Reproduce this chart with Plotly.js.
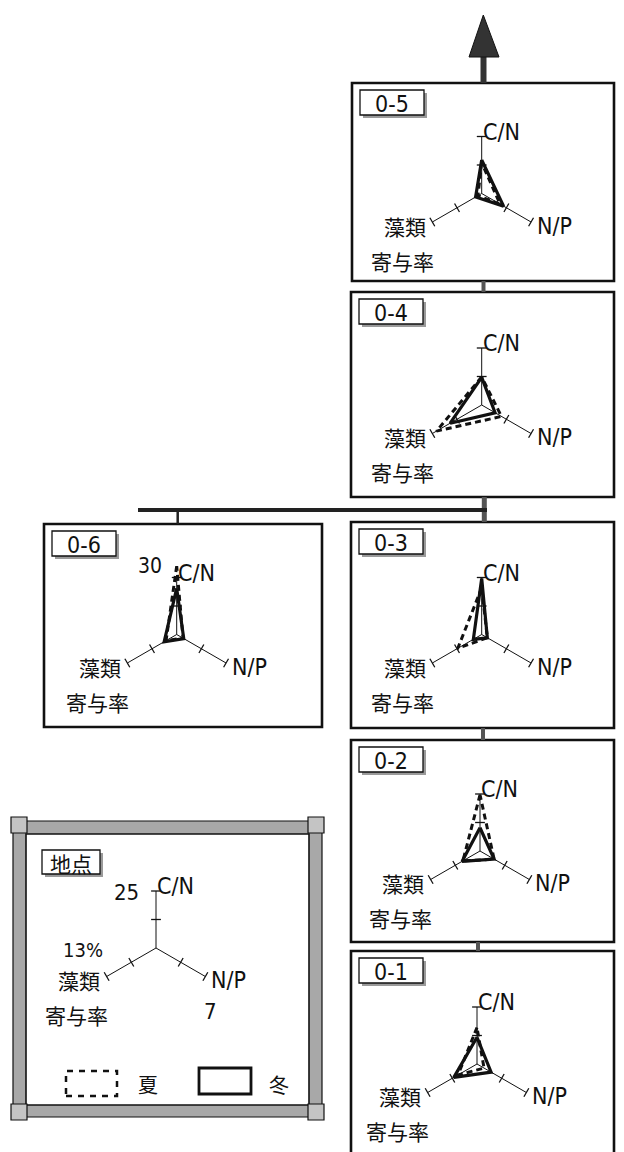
<!DOCTYPE html>
<html>
<head>
<meta charset="utf-8">
<script src="https://cdn.plot.ly/plotly-3.0.1.min.js"></script>
<style>html,body{margin:0;padding:0;background:#fff;}#chart{width:624px;height:1152px;}</style>
</head>
<body>
<div id="chart"></div>
<script>
// ---------------- data ----------------
const sites = ['0-5', '0-4', '0-6', '0-3', '0-2', '0-1'];
const axisLabels = ['C/N', '藻類', 'N/P'];
const axisMax = [25, 13, 7];           // scale end of each axis (C/N, 藻類寄与率 %, N/P)
const axisMaxLabels = ['25', '13%', '7'];
const summerCN    = [13.5, 12.3, 30.0, 20.5, 24.6, 16.0];
const summerAlgae = [1.0, 11.9, 2.8, 6.3, 4.5, 5.0];
const summerNP    = [2.6, 2.8, 0.9, 0.8, 2.0, 1.0];
const winterCN    = [14.7, 12.1, 20.2, 24.6, 10.2, 11.7];
const winterAlgae = [1.6, 8.3, 3.3, 2.2, 4.7, 6.1];
const winterNP    = [3.1, 1.9, 1.0, 0.8, 2.0, 2.0];
const seasonNames = ['夏', '冬'];
const contribLabel = '寄与率';
const legendTitle = '地点';
const overflowLabel = '30';

// ---------------- layout geometry (pixels) ----------------
const W = 624, H = 1152;
const L = 57;           // pixel length of one full axis
const RMAX = 1.25;      // radial range of each polar subplot (1 = axis end)
const panels = {
  '0-5': {x0: 352, y0: 83,  x1: 614, y1: 281,  cx: 481.7, cy: 193.5},
  '0-4': {x0: 351, y0: 292, x1: 614, y1: 497,  cx: 481.7, cy: 405},
  '0-6': {x0: 44,  y0: 524, x1: 322, y1: 727,  cx: 176.7, cy: 634.5},
  '0-3': {x0: 351, y0: 522, x1: 614, y1: 728,  cx: 481.7, cy: 634.5},
  '0-2': {x0: 351, y0: 740, x1: 614, y1: 942,  cx: 480,   cy: 851},
  '0-1': {x0: 351, y0: 951, x1: 614, y1: 1170, cx: 477,   cy: 1064}
};
const legendPanel = {cx: 156, cy: 948};
const thetas = [0, 120, 240];

const px = x => x / W;
const py = y => 1 - y / H;

const latinFont = "'Liberation Sans Narrow','DejaVu Sans Condensed','Liberation Sans',sans-serif";
const cjkFont = "'Noto Sans CJK JP','Noto Sans CJK SC',sans-serif";
const LATIN_SIZE = 23, CJK_SIZE = 21;

const traces = [];
const layout = {
  width: W, height: H,
  margin: {l: 0, r: 0, t: 0, b: 0},
  paper_bgcolor: '#fff',
  showlegend: false,
  shapes: [], annotations: []
};

function polarLayout(cx, cy) {
  const half = RMAX * L;
  return {
    domain: {x: [px(cx - half), px(cx + half)], y: [py(cy + half), py(cy - half)]},
    bgcolor: 'rgba(0,0,0,0)',
    radialaxis: {visible: false, range: [0, RMAX]},
    angularaxis: {visible: false, rotation: 90, direction: 'counterclockwise', thetaunit: 'degrees'}
  };
}

function addAxes(sub) {
  const r = [], t = [];
  thetas.forEach(th => { r.push(0, 1, null); t.push(th, th, null); });
  traces.push({type: 'scatterpolar', subplot: sub, mode: 'lines', r: r, theta: t,
    line: {color: '#111', width: 1}, hoverinfo: 'skip'});
  const tr = [], tt = [], ang = [];
  const tickAngles = [0, 60, -60];
  thetas.forEach((th, i) => { [0.5, 1].forEach(v => { tr.push(v); tt.push(th); ang.push(tickAngles[i]); }); });
  traces.push({type: 'scatterpolar', subplot: sub, mode: 'markers', r: tr, theta: tt,
    marker: {symbol: 'line-ew', size: 7, angle: ang, color: '#111', line: {color: '#111', width: 1.3}},
    hoverinfo: 'skip'});
}

function addLabels(cx, cy) {
  const ann = layout.annotations;
  ann.push({xref: 'paper', yref: 'paper', x: px(cx - 1), y: py(cy - 62), xanchor: 'left', yanchor: 'middle',
    text: axisLabels[0], showarrow: false, font: {family: latinFont, size: LATIN_SIZE, color: '#111'}});
  ann.push({xref: 'paper', yref: 'paper', x: px(cx - 54), y: py(cy + 32), xanchor: 'right', yanchor: 'middle',
    text: axisLabels[1], showarrow: false, font: {family: cjkFont, size: CJK_SIZE, color: '#111'}});
  ann.push({xref: 'paper', yref: 'paper', x: px(cx + 53), y: py(cy + 32), xanchor: 'left', yanchor: 'middle',
    text: axisLabels[2], showarrow: false, font: {family: latinFont, size: LATIN_SIZE, color: '#111'}});
  ann.push({xref: 'paper', yref: 'paper', x: px(cx - 113), y: py(cy + 67), xanchor: 'left', yanchor: 'middle',
    text: contribLabel, showarrow: false, font: {family: cjkFont, size: CJK_SIZE, color: '#111'}});
}

function labelBox(x0, y0, w, h, text, font, size) {
  layout.shapes.push({type: 'rect', xref: 'paper', yref: 'paper', layer: 'below',
    x0: px(x0 + 3), x1: px(x0 + w + 3), y0: py(y0 + h + 3), y1: py(y0 + 3),
    fillcolor: '#9a9a9a', line: {width: 0}});
  layout.shapes.push({type: 'rect', xref: 'paper', yref: 'paper', layer: 'below',
    x0: px(x0), x1: px(x0 + w), y0: py(y0 + h), y1: py(y0),
    fillcolor: '#fff', line: {color: '#111', width: 1.3}});
  layout.annotations.push({xref: 'paper', yref: 'paper', x: px(x0 + w / 2), y: py(y0 + h / 2 + 1),
    xanchor: 'center', yanchor: 'middle', text: text, showarrow: false,
    font: {family: font, size: size, color: '#111'}});
}

function vline(x, y0, y1, w, c) {
  layout.shapes.push({type: 'line', xref: 'paper', yref: 'paper', layer: 'below',
    x0: px(x), x1: px(x), y0: py(y0), y1: py(y1), line: {color: c || '#222', width: w}});
}
function hline(x0, x1, y, w, c) {
  layout.shapes.push({type: 'line', xref: 'paper', yref: 'paper', layer: 'below',
    x0: px(x0), x1: px(x1), y0: py(y), y1: py(y), line: {color: c || '#222', width: w}});
}

// ---------------- panels ----------------
sites.forEach((site, i) => {
  const p = panels[site];
  const sub = 'polar' + (i + 2);
  layout[sub] = polarLayout(p.cx, p.cy);
  layout.shapes.push({type: 'rect', xref: 'paper', yref: 'paper', layer: 'below',
    x0: px(p.x0), x1: px(p.x1), y0: py(p.y1), y1: py(p.y0), line: {color: '#111', width: 2.6}});
  labelBox(p.x0 + 8, p.y0 + 7, 64, 25, site, latinFont, 23);
  addAxes(sub);
  const rs = [summerCN[i] / axisMax[0], summerAlgae[i] / axisMax[1], summerNP[i] / axisMax[2]];
  const rw = [winterCN[i] / axisMax[0], winterAlgae[i] / axisMax[1], winterNP[i] / axisMax[2]];
  traces.push({type: 'scatterpolar', subplot: sub, mode: 'lines', name: seasonNames[0],
    r: rs.concat([rs[0]]), theta: thetas.concat([thetas[0]]),
    line: {color: '#111', width: 3, dash: '6px,4px'}});
  traces.push({type: 'scatterpolar', subplot: sub, mode: 'lines', name: seasonNames[1],
    r: rw.concat([rw[0]]), theta: thetas.concat([thetas[0]]),
    line: {color: '#111', width: 3.2}});
  addLabels(p.cx, p.cy);
  if (summerCN[i] > axisMax[0]) {
    const over = (summerCN[i] / axisMax[0]) * L;
    layout.annotations.push({xref: 'paper', yref: 'paper', x: px(p.cx - 27), y: py(p.cy - over),
      xanchor: 'center', yanchor: 'middle', text: overflowLabel, showarrow: false,
      font: {family: latinFont, size: 21, color: '#111'}});
  }
});

// ---------------- legend panel ----------------
(function () {
  const lc = legendPanel;
  layout.shapes.push({type: 'rect', xref: 'paper', yref: 'paper', layer: 'below',
    x0: px(13), x1: px(322), y0: py(1117), y1: py(821), fillcolor: '#a8a8a8', line: {color: '#111', width: 1.2}});
  layout.shapes.push({type: 'rect', xref: 'paper', yref: 'paper', layer: 'below',
    x0: px(26), x1: px(309), y0: py(1105), y1: py(834), fillcolor: '#fff', line: {color: '#111', width: 1.6}});
  [[19, 825], [316, 825], [19, 1112], [316, 1112]].forEach(c => {
    layout.shapes.push({type: 'rect', xref: 'paper', yref: 'paper', layer: 'below',
      x0: px(c[0] - 8), x1: px(c[0] + 8), y0: py(c[1] + 8), y1: py(c[1] - 8),
      fillcolor: '#c4c4c4', line: {color: '#111', width: 1.2}});
  });
  labelBox(42, 850, 58, 24, legendTitle, cjkFont, 21);
  const sub = 'polar';
  layout[sub] = polarLayout(lc.cx, lc.cy);
  addAxes(sub);
  addLabels(lc.cx, lc.cy);
  const f = {family: latinFont, size: 22, color: '#111'};
  layout.annotations.push({xref: 'paper', yref: 'paper', x: px(lc.cx - 15), y: py(lc.cy - 56), xanchor: 'right', yanchor: 'middle',
    text: axisMaxLabels[0], showarrow: false, font: f});
  layout.annotations.push({xref: 'paper', yref: 'paper', x: px(lc.cx - 73), y: py(lc.cy + 2), xanchor: 'center', yanchor: 'middle',
    text: axisMaxLabels[1], showarrow: false, font: {family: latinFont, size: 20, color: '#111'}});
  layout.annotations.push({xref: 'paper', yref: 'paper', x: px(lc.cx + 54), y: py(lc.cy + 63), xanchor: 'center', yanchor: 'middle',
    text: axisMaxLabels[2], showarrow: false, font: f});
  layout.shapes.push({type: 'rect', xref: 'paper', yref: 'paper', layer: 'below',
    x0: px(66), x1: px(117), y0: py(1096), y1: py(1071), line: {color: '#111', width: 2.5, dash: '6px,6px'}});
  layout.shapes.push({type: 'rect', xref: 'paper', yref: 'paper', layer: 'below',
    x0: px(199), x1: px(251), y0: py(1094), y1: py(1068), line: {color: '#111', width: 2.8}});
  layout.annotations.push({xref: 'paper', yref: 'paper', x: px(148), y: py(1084), xanchor: 'center', yanchor: 'middle',
    text: seasonNames[0], showarrow: false, font: {family: cjkFont, size: 20, color: '#111'}});
  layout.annotations.push({xref: 'paper', yref: 'paper', x: px(279), y: py(1084), xanchor: 'center', yanchor: 'middle',
    text: seasonNames[1], showarrow: false, font: {family: cjkFont, size: 20, color: '#111'}});
})();

// ---------------- connectors & arrow ----------------
vline(483.5, 57, 83, 6, '#333');
layout.shapes.push({type: 'path', xref: 'paper', yref: 'paper', layer: 'below',
  path: 'M ' + px(469) + ' ' + py(57) + ' L ' + px(483.3) + ' ' + py(15) + ' L ' + px(499) + ' ' + py(57) + ' Z',
  fillcolor: '#333', line: {color: '#111', width: 1}});
vline(483.5, 281, 292, 4, '#555');
vline(484.3, 497, 522, 5, '#555');
hline(138, 487, 510, 4, '#222');
vline(177.7, 510, 524, 2.5, '#222');
vline(483, 728, 740, 4, '#555');
vline(478, 942, 951, 4, '#555');

Plotly.newPlot('chart', traces, layout, {staticPlot: true, displayModeBar: false});
</script>
</body>
</html>
